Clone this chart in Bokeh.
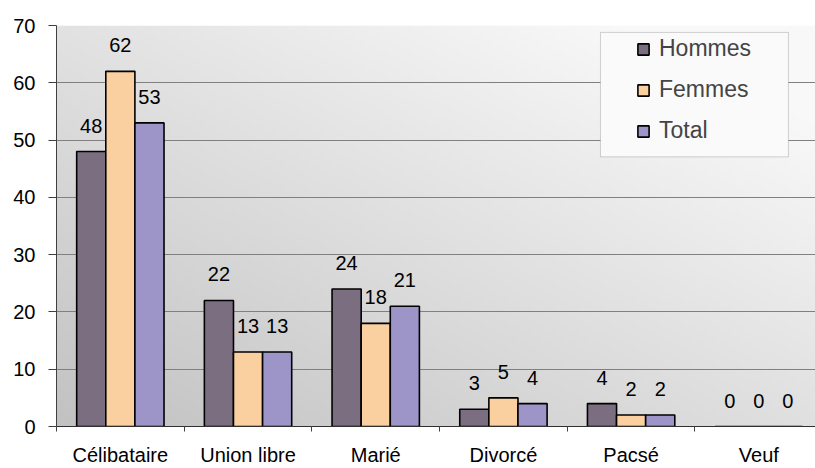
import numpy as np
from bokeh.plotting import figure
from bokeh.models import (ColumnDataSource, FixedTicker, LabelSet, Legend, LegendItem,
                          BoxAnnotation, Range1d)
from bokeh.core.properties import value
from bokeh.transform import dodge
from bokeh.embed import file_html
from bokeh.resources import INLINE

# ---- data ----
categories = ["Célibataire", "Union libre", "Marié", "Divorcé", "Pacsé", "Veuf"]
hommes = [48, 22, 24, 3, 4, 0]
femmes = [62, 13, 18, 5, 2, 0]
total = [53, 13, 21, 4, 2, 0]
series_names = ["Hommes", "Femmes", "Total"]
y_ticks = [0, 10, 20, 30, 40, 50, 60, 70]

colors = ["#7b6e80", "#fbd0a0", "#9d95c8"]
FONT = "Liberation Sans"

centers = [i + 0.5 for i in range(len(categories))]
bounds = list(range(len(categories) + 1))

src = ColumnDataSource(dict(
    x=centers,
    Hommes=hommes, Femmes=femmes, Total=total,
    Hommes_t=[str(v) for v in hommes],
    Femmes_t=[str(v) for v in femmes],
    Total_t=[str(v) for v in total],
))

X_END = 5.944
p = figure(width=815, height=468, output_backend="svg", toolbar_location=None,
           x_range=Range1d(0, X_END), y_range=Range1d(0, 70),
           min_border_left=56, min_border_top=25, min_border_right=0, min_border_bottom=40)
p.outline_line_color = None
p.border_fill_color = "white"
p.background_fill_color = None

# gradient background of plot area
ny, nx = 80, 160
yy, xx = np.mgrid[0:ny, 0:nx]
xf = xx / (nx - 1)
yf = yy / (ny - 1)
v = np.clip(194 + 30 * xf + 32 * yf, 0, 248).astype(np.uint8)
img = np.empty((ny, nx), dtype=np.uint32)
view = img.view(dtype=np.uint8).reshape((ny, nx, 4))
view[..., 0] = v
view[..., 1] = v
view[..., 2] = v
view[..., 3] = 255
p.image_rgba(image=[img], x=0, y=0, dw=X_END, dh=70, level="image")

W = 0.228
offsets = [-W, 0.0, W]
renderers = []
for name, col, off in zip(series_names, colors, offsets):
    r = p.vbar(x=dodge("x", off), top=name, width=W, source=src,
               fill_color=col, line_color="black", line_width=1.6)
    renderers.append(r)
    lbl = LabelSet(x=dodge("x", off), y=name, text=name + "_t", source=src,
                   text_align="center", text_baseline="alphabetic", y_offset=19,
                   text_font=value(FONT), text_font_size="20px", text_color="black")
    p.add_layout(lbl)

# axes
p.xgrid.grid_line_color = None
p.ygrid.grid_line_color = "#808080"
p.ygrid.grid_line_width = 1
p.ygrid.ticker = FixedTicker(ticks=y_ticks)

p.yaxis.ticker = FixedTicker(ticks=y_ticks)
p.yaxis.axis_line_color = "#404040"
p.yaxis.major_tick_line_color = "#404040"
p.yaxis.major_tick_out = 8
p.yaxis.major_tick_in = 0
p.yaxis.minor_tick_line_color = None
p.yaxis.major_label_standoff = 13
p.yaxis.major_label_text_font = FONT
p.yaxis.major_label_text_font_size = "20px"
p.yaxis.major_label_text_color = "black"

p.xaxis.ticker = FixedTicker(ticks=centers, minor_ticks=bounds)
p.xaxis.major_label_overrides = {c: name for c, name in zip(centers, categories)}
p.xaxis.axis_line_color = "#303030"
p.xaxis.major_tick_line_color = None
p.xaxis.major_tick_out = 5
p.xaxis.major_tick_in = 0
p.xaxis.minor_tick_line_color = "#404040"
p.xaxis.minor_tick_out = 5
p.xaxis.minor_tick_in = 0
p.xaxis.major_label_standoff = 12
p.xaxis.major_label_text_font = FONT
p.xaxis.major_label_text_font_size = "20px"
p.xaxis.major_label_text_color = "black"

# legend frame
box = BoxAnnotation(left=4.26, right=5.732, top=68.79, bottom=47.07,
                    fill_color="#fafafa", fill_alpha=1.0,
                    line_color="#707070", line_width=1, level="annotation")
p.add_layout(box)

legend = Legend(items=[LegendItem(label=n, renderers=[r]) for n, r in zip(series_names, renderers)],
                location=(580, 282), padding=0, spacing=14,
                glyph_width=14, glyph_height=14, label_height=24, label_standoff=9,
                label_text_font=FONT, label_text_font_size="23px",
                background_fill_alpha=0, border_line_color=None)
p.add_layout(legend, "center")

open("out.html", "w").write(file_html(p, INLINE))
